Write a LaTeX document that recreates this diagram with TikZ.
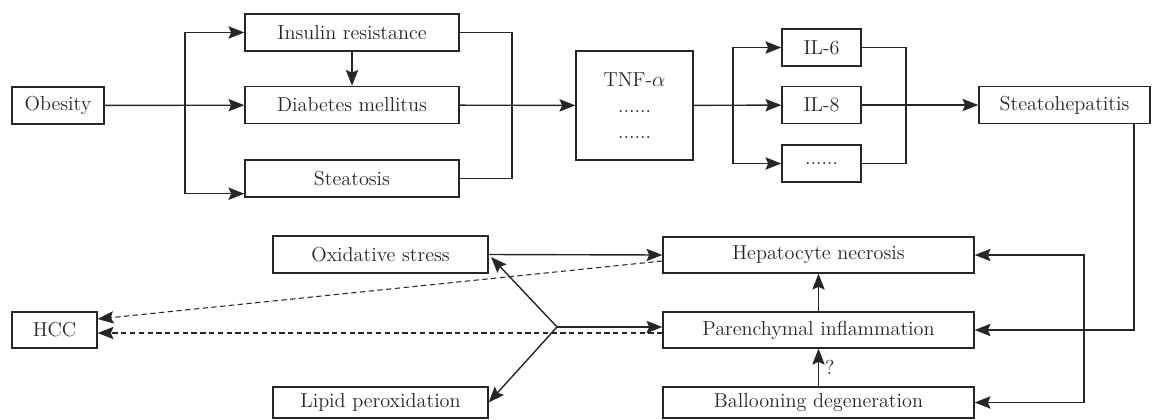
\documentclass[tikz,border=0pt]{standalone}
\usepackage{tikz}
\usetikzlibrary{arrows.meta, positioning, calc}

\begin{document}
\begin{tikzpicture}[x=0.02cm, y=-0.02cm, font=\fontsize{11.5}{15}\selectfont,
    >={Stealth[length=9pt,width=7pt,inset=1.5pt]}, line width=0.8pt, color=black!85,
    box/.style={draw, rectangle, minimum height=0.74cm, inner sep=0pt, align=center},
    hcclink/.style={densely dashed, line width=0.6pt}]
    \useasboundingbox (0,0) rectangle (1158,419);
    % top row
    \node[box, minimum width=1.84cm] (obes) at (58,105.5) {Obesity};
    \node[box, minimum width=4.28cm] (ir) at (352,32.5) {Insulin resistance};
    \node[box, minimum width=4.28cm] (dm) at (352,105) {Diabetes mellitus};
    \node[box, minimum width=4.28cm] (stea) at (352,178.5) {Steatosis};
    \node[box, minimum width=2.34cm, minimum height=2.18cm] (tnf) at (634.5,105.5) {TNF-$\alpha$\\......\\......};
    \node[box, minimum width=1.58cm] (il6) at (821.5,47.5) {IL-6};
    \node[box, minimum width=1.58cm] (il8) at (821.5,105) {IL-8};
    \node[box, minimum width=1.58cm] (ilx) at (821.5,163.5) {......};
    \node[box, minimum width=3.42cm] (sh) at (1064.5,105) {Steatohepatitis};
    % lower part
    \node[box, minimum width=4.3cm] (ox) at (380.5,254.5) {Oxidative stress};
    \node[box, minimum width=4.3cm, minimum height=0.62cm] (lp) at (380.5,402.5) {Lipid peroxidation};
    \node[box, minimum width=1.7cm, minimum height=0.72cm] (hcc) at (54.5,330) {HCC};
    \node[box, minimum width=6.22cm, minimum height=0.72cm] (hn) at (818.5,255) {Hepatocyte necrosis};
    \node[box, minimum width=6.22cm, minimum height=0.72cm] (pi) at (818.5,330) {Parenchymal inflammation};
    \node[box, minimum width=6.22cm, minimum height=0.62cm] (bd) at (818.5,402.5) {Ballooning degeneration};

    \coordinate (b1) at (185,105);
    \coordinate (m1) at (512,105);
    \coordinate (b2) at (733,105);
    \coordinate (m2) at (906,105);
    \coordinate (c1) at (1134,330);
    \coordinate (c2) at (1084,330);
    \coordinate (j) at (557,327);

    \draw[->] (obes) -- (dm);
    \draw[->] (b1) |- (ir.west);
    \draw[->] (b1) |- ([yshift=0.08cm]stea.south west);
    \draw[->] (ir) -- (dm);
    \draw (ir.east) -| (m1) |- (stea.east);
    \draw[->] (dm) -- (tnf);
    \draw[->] (tnf) -- (il8);
    \draw[->] (b2) |- (il6.west);
    \draw[->] (b2) |- (ilx.west);
    \draw (il6.east) -| (m2) |- (ilx.east);
    \draw[->] (il8) -- (sh);

    \draw[->] (sh.south -| c1) |- (pi.east);
    \draw[->] (c2) |- (hn.east);
    \draw[->] (c2) |- (bd.east);
    \draw[->] (pi) -- (hn);
    \draw[->] (bd) -- node[right]{?} (pi);
    \draw[->] (ox.east) -- (hn.west);
    \draw[->] (j) -- (j -| pi.west);
    \draw[->, shorten >=2pt] (j) -- (ox.east);
    \draw[->] (j) -- (lp.east);
    \draw[->, hcclink] ([yshift=-0.12cm]hn.west) -- ([yshift=0.22cm]hcc.east);
    \draw[->, hcclink] ([yshift=-0.06cm]pi.west) -- ([yshift=-0.06cm]hcc.east);
\end{tikzpicture}
\end{document}
